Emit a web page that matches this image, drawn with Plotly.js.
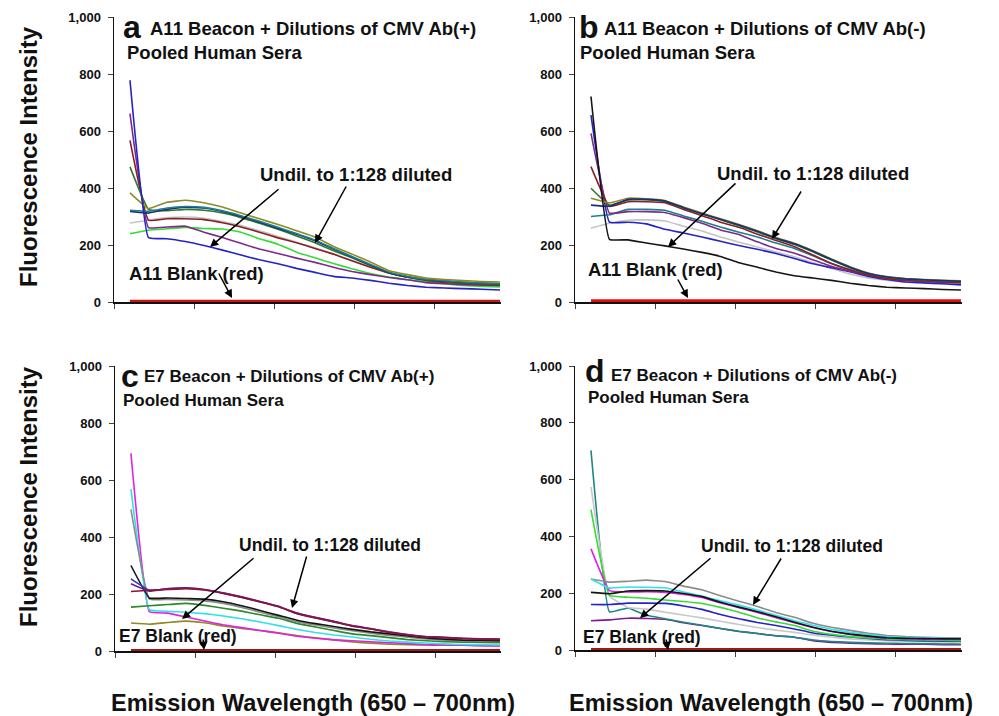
<!DOCTYPE html>
<html>
<head>
<meta charset="utf-8">
<script src="https://cdn.plot.ly/plotly-3.0.1.min.js"></script>
<style>html,body{margin:0;padding:0;background:#fff;}#chart{width:999px;height:716px;}</style>
</head>
<body>
<div id="chart"></div>
<script>
// ---------- DATA ----------
const wavelength = [650, 652.5, 655, 657.5, 660, 662.5, 665, 667.5, 670, 672.5, 675, 677.5, 680, 682.5, 685, 687.5, 690, 692.5, 695, 697.5, 700];

// Panel a: A11 Beacon + CMV Ab(+)
const aGray      = [277, 287, 296, 298, 294, 282, 268, 250, 230, 210, 190, 168, 145, 122, 102, 88, 78, 71, 67, 65, 64];
const aBrGreen   = [240, 252, 257, 262, 258, 256, 245, 222, 203, 175, 155, 135, 117, 100, 88, 78, 72, 64, 58, 55, 53];
const aDarkRed   = [567, 287, 292, 292, 289, 278, 263, 245, 225, 208, 188, 168, 145, 122, 102, 87, 76, 69, 65, 62, 60];
const aPurple    = [661, 261, 263, 266, 245, 226, 206, 186, 170, 154, 139, 122, 107, 96, 86, 78, 68, 64, 61, 59, 58];
const aDarkGreen = [474, 325, 320, 325, 322, 312, 296, 276, 255, 232, 208, 180, 155, 128, 102, 87, 77, 72, 67, 64, 62];
const aNavy      = [318, 312, 325, 333, 330, 318, 300, 280, 258, 238, 215, 186, 158, 130, 103, 88, 79, 73, 69, 66, 64];
const aTeal      = [322, 318, 330, 335, 332, 320, 303, 283, 262, 240, 218, 188, 160, 132, 105, 90, 80, 75, 70, 67, 65];
const aOlive     = [383, 328, 350, 357, 348, 333, 312, 292, 272, 250, 228, 195, 168, 140, 110, 96, 84, 79, 75, 72, 70];
const aBlue      = [778, 226, 222, 212, 198, 182, 165, 148, 134, 118, 104, 90, 84, 76, 66, 58, 52, 49, 47, 45, 42];
const aBlank     = [3, 3, 3, 3, 3, 3, 3, 3, 3, 3, 3, 3, 3, 3, 3, 3, 3, 3, 3, 3, 3];

// Panel b: A11 Beacon + CMV Ab(-)
const bGray      = [259, 276, 287, 288, 284, 266, 249, 228, 210, 193, 175, 159, 138, 118, 98, 84, 76, 70, 67, 65, 63];
const bBlue      = [656, 280, 280, 274, 255, 242, 228, 213, 198, 185, 170, 153, 134, 120, 106, 90, 79, 70, 67, 64, 60];
const bTeal      = [300, 306, 325, 325, 322, 302, 283, 263, 245, 228, 207, 188, 162, 135, 114, 97, 86, 78, 75, 73, 71];
const bPurple    = [592, 312, 317, 317, 314, 296, 276, 253, 237, 211, 188, 171, 148, 125, 108, 95, 82, 75, 71, 69, 68];
const bDarkRed   = [475, 335, 352, 352, 348, 325, 303, 280, 262, 238, 216, 194, 165, 135, 112, 94, 82, 77, 74, 71, 68];
const bGreen     = [399, 340, 358, 359, 353, 330, 309, 289, 268, 246, 222, 202, 176, 147, 120, 99, 87, 80, 77, 74, 72];
const bOlive     = [364, 348, 364, 362, 356, 333, 312, 292, 272, 250, 226, 206, 180, 151, 124, 102, 89, 82, 79, 76, 74];
const bNavy      = [340, 336, 360, 360, 354, 331, 310, 290, 270, 248, 224, 204, 178, 149, 122, 100, 88, 81, 78, 75, 73];
const bBlack     = [721, 220, 218, 207, 197, 186, 174, 160, 138, 122, 105, 92, 84, 76, 66, 58, 52, 49, 47, 44, 42];
const bBlank     = [4, 4, 4, 4, 4, 4, 4, 4, 4, 4, 4, 4, 4, 4, 4, 4, 4, 4, 4, 4, 4];

// Panel c: E7 Beacon + CMV Ab(+)
const cOlive     = [98, 94, 100, 105, 99, 88, 79, 72, 64, 54, 46, 39, 32, 27, 24, 22, 21, 20, 20, 19, 19];
const cMagenta   = [694, 138, 133, 119, 105, 92, 82, 72, 62, 52, 45, 39, 36, 32, 29, 26, 22, 21, 20, 19, 18];
const cCyan      = [568, 145, 139, 136, 131, 123, 113, 102, 89, 76, 65, 56, 49, 41, 35, 31, 28, 25, 23, 22, 21];
const cGreen     = [154, 159, 163, 167, 160, 150, 140, 127, 115, 97, 84, 72, 60, 54, 47, 40, 36, 33, 31, 30, 29];
const cDarkGray  = [497, 182, 181, 179, 176, 167, 153, 136, 120, 103, 91, 81, 71, 62, 55, 48, 42, 38, 36, 35, 34];
const cBlack     = [300, 186, 186, 184, 182, 173, 159, 142, 125, 108, 96, 86, 76, 67, 60, 53, 46, 41, 38, 37, 36];
const cNavy      = [253, 213, 218, 220, 215, 203, 189, 173, 156, 132, 117, 103, 88, 78, 66, 57, 50, 47, 44, 42, 41];
const cPurple    = [236, 210, 219, 222, 216, 204, 190, 174, 157, 133, 118, 104, 89, 79, 67, 58, 51, 48, 45, 43, 42];
const cDarkRed   = [209, 213, 216, 219, 214, 202, 188, 172, 155, 131, 116, 102, 87, 77, 65, 56, 49, 46, 43, 41, 40];
const cBlank     = [2, 2, 2, 2, 2, 2, 2, 2, 2, 2, 2, 2, 2, 2, 2, 2, 2, 2, 2, 2, 2];

// Panel d: E7 Beacon + CMV Ab(-)
const dPurple    = [103, 106, 112, 111, 108, 96, 86, 76, 65, 58, 50, 45, 33, 27, 24, 22, 21, 20, 20, 19, 19];
const dTeal      = [703, 134, 148, 122, 110, 98, 87, 76, 66, 58, 50, 45, 35, 30, 27, 25, 24, 23, 22, 21, 21];
const dLightGray = [574, 190, 150, 144, 133, 123, 113, 101, 90, 79, 70, 62, 53, 45, 39, 35, 32, 30, 29, 28, 27];
const dBlue      = [160, 160, 165, 165, 164, 155, 143, 125, 110, 97, 86, 74, 60, 52, 46, 41, 36, 34, 32, 31, 31];
const dGreen     = [494, 192, 186, 182, 176, 171, 164, 150, 133, 113, 99, 86, 66, 55, 47, 42, 39, 36, 35, 34, 33];
const dMagenta   = [356, 209, 204, 205, 203, 196, 185, 166, 149, 132, 114, 96, 79, 65, 55, 48, 42, 40, 38, 37, 37];
const dBlack     = [203, 198, 208, 209, 208, 199, 188, 168, 151, 135, 117, 98, 80, 66, 56, 49, 43, 41, 40, 39, 39];
const dCyan      = [250, 218, 222, 221, 219, 204, 190, 173, 158, 141, 122, 103, 87, 73, 62, 54, 47, 44, 42, 40, 39];
const dGray      = [250, 239, 242, 246, 241, 225, 212, 191, 172, 153, 132, 115, 94, 80, 69, 59, 51, 47, 45, 43, 42];
const dBlank     = [2, 2, 2, 2, 2, 2, 2, 2, 2, 2, 2, 2, 2, 2, 2, 2, 2, 2, 2, 2, 2];

const yTickVals = [0, 200, 400, 600, 800, 1000];
const yTickText = ["0", "200", "400", "600", "800", "1,000"];

const panelTitles = ["A11 Beacon + Dilutions of CMV Ab(+)", "A11 Beacon + Dilutions of CMV Ab(-)",
                     "E7 Beacon + Dilutions of CMV Ab(+)", "E7 Beacon + Dilutions of CMV Ab(-)"];
const panelLetters = ["a", "b", "c", "d"];
const subTitle = "Pooled Human Sera";
const dilText = "Undil. to 1:128 diluted";
const blankTexts = ["A11 Blank (red)", "A11 Blank (red)", "E7 Blank (red)", "E7 Blank (red)"];
const yTitle = "Fluorescence Intensity";
const xTitle = "Emission Wavelength (650 \u2013 700nm)";

// ---------- TRACES ----------
const C = {
  blue: "#2323c8", purple: "#7e2a8c", darkred: "#8b1e22", darkgreen: "#2b7a2e", olive: "#8e8a24",
  teal: "#1f7f8c", navy: "#1d2e78", gray: "#c4c4c4", brgreen: "#33dd33", red: "#c81414",
  black: "#151515", magenta: "#e022e0", cyan: "#33e0e8", dgray: "#7a7a7a", mgray: "#8c8c8c", green: "#2a8a2a"
};
const traces = [];
function line(ax, y, color, width) {
  traces.push({type: "scatter", mode: "lines", x: wavelength, y: y, xaxis: "x" + ax, yaxis: "y" + ax,
    line: {color: color, width: width || 1.6, shape: "spline", smoothing: 0.3}, showlegend: false, hoverinfo: "skip"});
}
// a
line("", aGray, C.gray); line("", aBrGreen, C.brgreen); line("", aPurple, C.purple);
line("", aDarkRed, C.darkred); line("", aDarkGreen, C.darkgreen); line("", aNavy, C.navy);
line("", aTeal, C.teal); line("", aOlive, C.olive); line("", aBlue, C.blue); line("", aBlank, C.red, 3);
// b
line("2", bGray, C.gray); line("2", bBlue, C.blue); line("2", bTeal, C.teal); line("2", bPurple, C.purple);
line("2", bDarkRed, C.darkred); line("2", bGreen, C.darkgreen); line("2", bOlive, C.olive);
line("2", bNavy, C.navy); line("2", bBlack, C.black); line("2", bBlank, "#e01010", 3);
// c
line("3", cOlive, C.olive); line("3", cMagenta, C.magenta); line("3", cCyan, C.cyan); line("3", cGreen, C.green);
line("3", cDarkGray, C.mgray); line("3", cBlack, C.black); line("3", cNavy, "#3a34b8");
line("3", cPurple, "#6a1e96"); line("3", cDarkRed, "#8a1530"); line("3", cBlank, "#a01818", 3);
// d
line("4", dPurple, "#7c1f8c"); line("4", dTeal, "#1f8585"); line("4", dLightGray, "#c8c8c8");
line("4", dBlue, C.blue); line("4", dGreen, C.brgreen); line("4", dMagenta, C.magenta);
line("4", dGray, C.mgray); line("4", dCyan, C.cyan); line("4", dBlack, C.black); line("4", dBlank, "#a01818", 3);

// ---------- LAYOUT ----------
const W = 999, H = 716;
const px = v => v / W, py = v => 1 - v / H;
const FONT = "Liberation Sans, Arial, sans-serif";

function xax(domLeft, domRight, anchor) {
  return {domain: [px(domLeft), px(domRight)], anchor: anchor, range: [647.84, 700.14],
    tick0: 647.84, dtick: 10.84, ticks: "outside", ticklen: 5, tickwidth: 1, tickcolor: "#444",
    showticklabels: false, showgrid: false, zeroline: false, showline: true, linecolor: "#111", linewidth: 1.5};
}
function yax(domTop, domBottom, anchor) {
  return {domain: [py(domBottom), py(domTop)], anchor: anchor, range: [0, 1000],
    tickvals: yTickVals, ticktext: yTickText, ticks: "outside", ticklen: 5, tickwidth: 1, tickcolor: "#444",
    tickfont: {family: FONT, size: 13, color: "#111", weight: "bold"}, ticklabelstandoff: 4,
    showgrid: false, zeroline: false, showline: true, linecolor: "#111", linewidth: 1.5};
}

const layout = {
  width: W, height: H, margin: {l: 0, r: 0, t: 0, b: 0},
  paper_bgcolor: "#fff", plot_bgcolor: "#fff", showlegend: false,
  xaxis: xax(114, 501, "y"), yaxis: yax(17, 302, "x"),
  xaxis2: xax(575, 962, "y2"), yaxis2: yax(17, 302, "x2"),
  xaxis3: xax(115, 501, "y3"), yaxis3: yax(366, 651, "x3"),
  xaxis4: xax(575, 962, "y4"), yaxis4: yax(366, 650, "x4"),
  annotations: []
};

function txt(text, x, y, size, opts) {
  layout.annotations.push(Object.assign({text: text, x: px(x), y: py(y), xref: "paper", yref: "paper",
    xanchor: "left", yanchor: "middle", showarrow: false,
    font: {family: FONT, size: size, color: "#111", weight: "bold"}}, opts || {}));
}
function arrow(hx, hy, tx, ty) {
  layout.annotations.push({text: "", x: px(hx), y: py(hy), xref: "paper", yref: "paper",
    showarrow: true, ax: tx - hx, ay: ty - hy, arrowhead: 2, arrowsize: 1.1, arrowwidth: 1.5, arrowcolor: "#000"});
}

// panel letters and titles
const letterPos = [[121, 27], [577, 27], [119, 376], [583, 371]];
const titlePos = [[148, 28, 18.5], [602, 28, 18.5], [142, 376, 17], [609, 375, 17]];
const subPos = [[125, 53, 18.5], [578, 53, 18.5], [121, 400, 17], [586, 397, 17]];
for (let i = 0; i < 4; i++) {
  txt(panelLetters[i], letterPos[i][0], letterPos[i][1], 32);
  txt(panelTitles[i], titlePos[i][0], titlePos[i][1], titlePos[i][2]);
  txt(subTitle, subPos[i][0], subPos[i][1], subPos[i][2]);
}
// dilution labels
const dilPos = [[356, 175, 18.5], [813, 173, 18.5], [330, 545, 17.5], [792, 546, 17.5]];
for (let i = 0; i < 4; i++) txt(dilText, dilPos[i][0], dilPos[i][1], dilPos[i][2], {xanchor: "center"});
// blank labels
const blankPos = [[127, 273, 18.5], [586, 269, 18.5], [117, 636, 17.5], [581, 637, 17.5]];
for (let i = 0; i < 4; i++) txt(blankTexts[i], blankPos[i][0], blankPos[i][1], blankPos[i][2]);

// arrows: head, tail
arrow(210, 247, 280, 188); arrow(315, 243, 347, 185); arrow(232, 298, 218, 272);
arrow(668, 247, 737, 182); arrow(772, 239, 802, 190); arrow(688, 298, 677, 278);
arrow(182, 619, 255, 557); arrow(292, 608, 307, 555); arrow(204, 650, 203, 638);
arrow(640, 618, 712, 557); arrow(753, 605, 782, 557); arrow(668, 650, 666, 638);

// axis titles
txt(yTitle, 29, 157, 24, {xanchor: "center", textangle: -90});
txt(yTitle, 29, 497, 24, {xanchor: "center", textangle: -90});
txt(xTitle, 313, 703, 23.5, {xanchor: "center"});
txt(xTitle, 771, 703, 23.5, {xanchor: "center"});

Plotly.newPlot("chart", traces, layout, {staticPlot: true, displayModeBar: false});
</script>
</body>
</html>
